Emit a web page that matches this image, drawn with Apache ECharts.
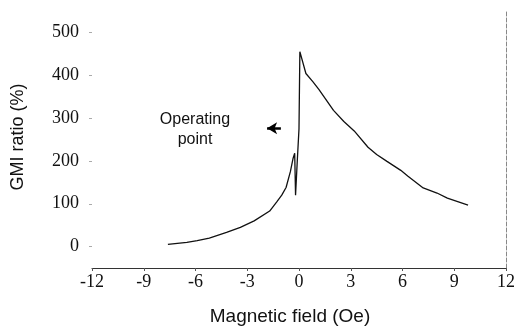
<!DOCTYPE html>
<html>
<head>
<meta charset="utf-8">
<script src="https://cdn.jsdelivr.net/npm/echarts@6/dist/echarts.min.js"></script>
<style>html,body{margin:0;padding:0;background:#fff}#c{width:518px;height:334px}</style>
</head>
<body>
<div id="c"></div>
<script>
// Magnetic field (Oe) and GMI ratio (%)
const fieldOe = [-7.6,-6.5,-5.9,-5.2,-4.2,-3.4,-2.6,-1.7,-1.3,-1.0,-0.75,-0.5,-0.35,-0.25,-0.2,-0.1,0,0.05,0.4,0.8,1.15,2.0,2.6,3.2,4.0,4.5,5.1,5.9,6.3,7.2,8.0,8.6,9.2,9.8];
const gmiRatio = [5,10,14,20,33,45,60,83,104,120,138,175,205,218,120,200,275,455,404,385,367,318,292,270,232,215,199,178,165,137,125,113,105,97];
const xTicks = [-12,-9,-6,-3,0,3,6,9,12];
const yTicks = [0,100,200,300,400,500];
const operatingPoint = {label:'Operating\npoint', arrowFrom:[-1.05,276], arrowTo:[-1.85,276]};

const chart = echarts.init(document.getElementById('c'));
const serif = '"Liberation Serif","DejaVu Serif",serif';
const sans = '"Liberation Sans",Arial,sans-serif';
chart.setOption({
  animation:false,
  backgroundColor:'#fff',
  grid:{left:92,right:10,top:11,bottom:66},
  xAxis:{type:'value',min:-12,max:12,interval:3,
    axisLine:{show:true,onZero:false,lineStyle:{color:'#333',width:1}},
    axisTick:{show:true,length:3,lineStyle:{color:'#555'},customValues:xTicks},
    axisLabel:{margin:5,fontFamily:serif,fontSize:18,color:'#111',customValues:xTicks},
    splitLine:{show:false}},
  yAxis:[{type:'value',min:-50,max:550,position:'left',
    axisLine:{show:false,onZero:false},
    axisTick:{show:true,length:3,lineStyle:{color:'#aaa'},customValues:yTicks},
    axisLabel:{margin:13,fontFamily:serif,fontSize:18,color:'#111',customValues:yTicks},
    splitLine:{show:false}},
   {type:'value',min:-50,max:550,position:'right',
    axisLine:{show:true,onZero:false,lineStyle:{color:'#888',type:'dashed',width:1}},
    axisTick:{show:false},axisLabel:{show:false},splitLine:{show:false}}],
  series:[{type:'line',data:fieldOe.map((x,i)=>[x,gmiRatio[i]]),
    showSymbol:false,lineStyle:{color:'#111',width:1.3},
    markLine:{silent:true,symbol:['none','arrow'],symbolSize:[9,10],
      label:{show:false},lineStyle:{color:'#000',width:2.5,type:'solid'},
      data:[[{coord:operatingPoint.arrowFrom},{coord:operatingPoint.arrowTo}]]}}],
  graphic:[
    {type:'text',x:290,y:317,style:{text:'Magnetic field (Oe)',font:'19px '+sans,fill:'#111',textAlign:'center',textVerticalAlign:'middle'}},
    {type:'text',x:18,y:137,rotation:Math.PI/2,style:{text:'GMI ratio (%)',font:'18px '+sans,fill:'#111',textAlign:'center',textVerticalAlign:'middle'}},
    {type:'text',x:195,y:130,style:{text:operatingPoint.label,font:'16px '+sans,lineHeight:20,fill:'#111',textAlign:'center',textVerticalAlign:'middle'}}
  ]
});
</script>
</body>
</html>
